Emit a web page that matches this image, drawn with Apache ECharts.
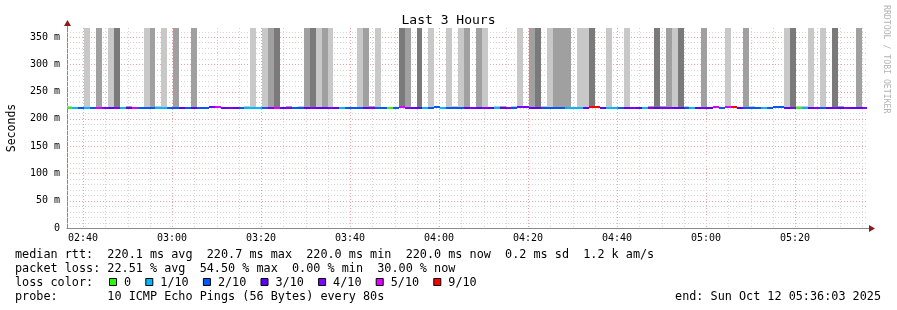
<!DOCTYPE html>
<html><head><meta charset="utf-8">
<script src="https://cdn.jsdelivr.net/npm/echarts@6/dist/echarts.min.js"></script>
<style>html,body{margin:0;padding:0;background:#fff}#c{width:897px;height:310px}</style>
</head><body><div id="c"></div>
<script>
// ---------- data ----------
const startTime = 9377;          // first step start, seconds since midnight (02:36:17)
const stepSec = 80;
// smoke shade per step: 0 none, 1 light, 2 mid, 3 dark
const smokeShade = [
0,0,0,1,0,2,0,1,3,0, 0,0,0,1,2,0,1,0,2,0, 0,2,0,0,0,0,0,0,0,0,
0,1,0,1,2,3,0,0,0,0, 2,3,1,2,1,0,0,0,0,1, 2,0,1,0,0,0,3,2,0,3,
0,1,0,0,1,0,1,2,0,2, 1,0,0,0,0,0,1,0,2,3, 0,1,2,2,2,0,1,1,3,0,
0,1,0,0,1,0,0,0,0,3, 0,2,1,3,0,0,0,2,0,0, 0,1,0,0,2,0,0,0,0,0,
0,1,3,0,0,1,0,1,0,3, 0,0,0,2,0];
const smokeTopMs = 400;          // tall smoke runs off the top of the chart
// loss level per step: index into lossLabels
const lossLevel = [
0,1,2,1,2,5,4,3,4,1, 3,5,2,2,2,1,1,2,2,3, 2,3,2,2,4,5,3,4,3,2,
1,1,1,2,4,5,3,4,2,2, 3,4,3,3,4,3,1,2,2,2, 3,4,2,2,0,2,5,4,3,3,
1,2,2,1,2,2,2,3,4,3, 4,3,1,3,4,2,4,4,3,3, 2,2,2,2,1,1,1,3,6,6,
3,1,1,2,3,4,3,1,4,3, 4,4,3,3,2,1,3,4,3,5, 2,5,6,3,2,2,2,1,2,2,
2,3,4,0,1,3,4,2,3,4, 3,4,3,3,4];
// median rtt per step (ms)
const medianMs = [
220,220,220,220,220,220,220,220,220,220, 220,220,220,220,220,220,220,220,220,220, 220,220,220,220,221.5,221.5,220,220,220,220,
220,220,220,220,220,220,220,220,220,220, 220,220,220,220,220,220,220,220,220,220, 220,220,220,220,220,220,221,220,220,220,
220,220,221.5,220,220,220,220,220,220,220, 220,220,220,220,220,220,221.5,221.5,220,220, 220,220,220,220,220,220,220,220,221,221,
220,220,220,220,220,220,220,220,220,220, 220,220,220,220,220,220,220,220,220,221, 220,221,221,220,220,220,220,220,220,221.5,
221.5,220,220,220,220,220,220,220,220,220, 220,220,220,220,220];
// small smoke just above the median: top (ms, 0 = none) and shade
const bumpTop = [
223,0,0,0,222.5,0,0,0,0,0, 224,0,0,0,0,223,0,0,0,0, 0,0,0,0,0,0,0,0,0,0,
223,0,0,0,0,0,0,224,0,223, 0,0,0,0,0,0,0,0,0,0, 0,224,0,0,0,0,0,0,0,0,
0,0,224,0,0,223,0,0,0,0, 0,0,223,223.5,0,223,0,0,0,0, 223,0,0,0,0,0,0,0,0,0,
0,0,0,0,0,0,0,0,223.5,0, 223.5,0,0,0,223,0,0,0,0,224, 0,0,0,0,0,223,0,0,0,223,
223.5,0,0,223,223,0,0,0,0,0, 223,0,0,0,0];
const bumpShade = [
1,0,0,0,1,0,0,0,0,0, 2,0,0,0,0,1,0,0,0,0, 0,0,0,0,0,0,0,0,0,0,
1,0,0,0,0,0,0,2,0,1, 0,0,0,0,0,0,0,0,0,0, 0,2,0,0,0,0,0,0,0,0,
0,0,2,0,0,1,0,0,0,0, 0,0,1,2,0,1,0,0,0,0, 1,0,0,0,0,0,0,0,0,0,
0,0,0,0,0,0,0,0,2,0, 2,0,0,0,1,0,0,0,0,3, 0,0,0,0,0,1,0,0,0,1,
2,0,0,1,1,0,0,0,0,0, 2,0,0,0,0];
const lossLabels = ['0','1/10','2/10','3/10','4/10','5/10','9/10'];
const lossColors = ['#26ff00','#00b8ff','#0059ff','#5e00ff','#7e00ff','#dd00ff','#ff0000'];
const shadeColors = [null,'#c8c8c8','#a0a0a0','#7a7a7a'];
const xTickLabels = ['02:40','03:00','03:20','03:40','04:00','04:20','04:40','05:00','05:20'];
const yTickLabels = ['0','50 m','100 m','150 m','200 m','250 m','300 m','350 m'];
const xMin = 9384, xMax = 20184;   // 02:36:24 .. 05:36:24
const yMax = 366.5;
const statLines = [
  'median rtt:  220.1 ms avg  220.7 ms max  220.0 ms min  220.0 ms now  0.2 ms sd  1.2 k am/s',
  'packet loss: 22.51 % avg  54.50 % max  0.00 % min  30.00 % now'
];
const probeText = 'probe:       10 ICMP Echo Pings (56 Bytes) every 80s';
const endText = 'end: Sun Oct 12 05:36:03 2025';

// ---------- helpers ----------
const FONT = 'DejaVu Sans Mono';
const pad = n => (n < 10 ? '0' : '') + n;
const fmtTime = s => pad(Math.floor(s / 3600)) + ':' + pad(Math.floor((s % 3600) / 60));
const parseTime = str => { const [h, m] = str.split(':').map(Number); return h * 3600 + m * 60; };
const xTickValues = xTickLabels.map(parseTime);

const smokeData = smokeShade.map((s, i) => [startTime + i * stepSec, s]);
const bumpData = bumpTop.map((v, i) => [startTime + i * stepSec, v, bumpShade[i]]);
const medianData = medianMs.map((v, i) => [startTime + i * stepSec, v, lossLevel[i]]);

const vGrid = [];
for (let t = xTickValues[0]; t < xMax; t += 300) vGrid.push([t, 0, (t - xTickValues[0]) % 1200 === 0 ? 1 : 0]);
const hGrid = [];
for (let v = 10; v < yMax; v += 10) hGrid.push([xMin, v, v % 50 === 0 ? 1 : 0]);

function stepRect(api, t, lo, hi) {
  const a = api.coord([t, lo]);
  const b = api.coord([t + stepSec, hi]);
  const x = Math.round(a[0]), x2 = Math.round(b[0]);
  const y = Math.round(b[1]), y2 = Math.round(a[1]);
  return { x: x, y: y, width: x2 - x, height: y2 - y };
}

const chart = echarts.init(document.getElementById('c'), null, { renderer: 'canvas' });

// legend squares / labels for loss colours
const legendEls = [];
let lx = 109;
const charW = 7.1;
lossLabels.forEach((lab, i) => {
  legendEls.push({ type: 'rect', shape: { x: lx + 0.5, y: 278.5, width: 7, height: 7 },
    style: { fill: lossColors[i], stroke: '#000', lineWidth: 1 } });
  legendEls.push({ type: 'text', x: lx + 15, y: 282, style: { text: lab, font: '11.8px "' + FONT + '"', fill: '#000', verticalAlign: 'middle' } });
  lx += 15 + lab.length * charW + 2 * charW;
});

const option = {
  animation: false,
  backgroundColor: '#ffffff',
  title: { text: 'Last 3 Hours', left: 'center', top: 9,
    textStyle: { fontFamily: FONT, fontSize: 13, fontWeight: 'normal', color: '#000' } },
  grid: { left: 67, right: 29, top: 28, height: 200, containLabel: false, outerBoundsMode: 'none' },
  xAxis: {
    type: 'value', min: xMin, max: xMax,
    splitLine: { show: false }, axisTick: { show: false },
    axisLine: { show: true, lineStyle: { color: '#8a8a8a', width: 1 } },
    axisLabel: { customValues: xTickValues, formatter: v => fmtTime(v), margin: 5,
      fontFamily: FONT, fontSize: 10, color: '#000', showMinLabel: true, showMaxLabel: true }
  },
  yAxis: {
    type: 'value', min: 0, max: yMax, interval: 50,
    name: 'Seconds', nameLocation: 'middle', nameRotate: 90, nameGap: 49,
    nameTextStyle: { fontFamily: FONT, fontSize: 11.5, color: '#000' },
    splitLine: { show: false }, axisTick: { show: false },
    axisLine: { show: true, lineStyle: { color: '#8a8a8a', width: 1 } },
    axisLabel: { formatter: v => (v % 50 === 0 ? yTickLabels[v / 50] : ''), showMaxLabel: false,
      margin: 7, fontFamily: FONT, fontSize: 10, color: '#000' }
  },
  series: [
    { type: 'custom', name: 'vgrid', clip: true, z: 1, silent: true, encode: { x: 0, y: 1 }, data: vGrid,
      renderItem: (p, api) => {
        const cs = p.coordSys;
        const x = Math.round(api.coord([api.value(0), 0])[0]) + 0.5;
        return { type: 'line', shape: { x1: x, y1: cs.y, x2: x, y2: cs.y + cs.height },
          style: { stroke: api.value(2) ? '#eda3a3' : '#d4d4d4', lineWidth: 1, lineDash: [1, 2] } };
      } },
    { type: 'custom', name: 'hgrid', clip: true, z: 1, silent: true, encode: { x: 0, y: 1 }, data: hGrid,
      renderItem: (p, api) => {
        const cs = p.coordSys;
        const y = Math.round(api.coord([xMin, api.value(1)])[1]) + 0.5;
        return { type: 'line', shape: { x1: cs.x, y1: y, x2: cs.x + cs.width, y2: y },
          style: { stroke: api.value(2) ? '#eda3a3' : '#d4d4d4', lineWidth: 1, lineDash: [1, 2] } };
      } },
    { type: 'custom', name: 'smoke', clip: true, z: 2, encode: { x: 0, y: 1 }, data: smokeData,
      renderItem: (p, api) => {
        const s = api.value(1);
        if (!s) return null;
        return { type: 'rect', shape: stepRect(api, api.value(0), 220, smokeTopMs), style: { fill: shadeColors[s] } };
      } },
    { type: 'custom', name: 'bump', clip: true, z: 2, encode: { x: 0, y: 1 }, data: bumpData,
      renderItem: (p, api) => {
        const top = api.value(1), s = api.value(2);
        if (!top) return null;
        return { type: 'rect', shape: stepRect(api, api.value(0), 220, top), style: { fill: shadeColors[s] } };
      } },
    { type: 'custom', name: 'median', clip: true, z: 4, encode: { x: 0, y: 1 }, data: medianData,
      renderItem: (p, api) => {
        const a = api.coord([api.value(0), api.value(1)]);
        const b = api.coord([api.value(0) + stepSec, api.value(1)]);
        const x = Math.round(a[0]), x2 = Math.round(b[0]);
        const y = Math.round(a[1]) - 1;
        return { type: 'rect', shape: { x: x, y: y, width: x2 - x, height: 2 }, style: { fill: lossColors[api.value(2)] } };
      } }
  ],
  graphic: [
    { type: 'line', shape: { x1: 67.5, y1: 28, x2: 67.5, y2: 22 }, style: { stroke: '#8a8a8a', lineWidth: 1 } },
    { type: 'polygon', shape: { points: [[64, 26], [71, 26], [67.5, 20]] }, style: { fill: '#8b1c1c' } },
    { type: 'line', shape: { x1: 868, y1: 228.5, x2: 872, y2: 228.5 }, style: { stroke: '#8a8a8a', lineWidth: 1 } },
    { type: 'polygon', shape: { points: [[869, 225], [869, 232], [875, 228.5]] }, style: { fill: '#8b1c1c' } },
    { type: 'text', x: 886, y: 5, rotation: -Math.PI / 2,
      style: { text: 'RRDTOOL / TOBI OETIKER', font: '8.2px "' + FONT + '"', fill: '#b4b4b4', verticalAlign: 'middle', align: 'left' } },
    { type: 'text', x: 15, y: 255, style: { text: statLines[0], font: '11.8px "' + FONT + '"', fill: '#000', verticalAlign: 'middle' } },
    { type: 'text', x: 15, y: 269, style: { text: statLines[1], font: '11.8px "' + FONT + '"', fill: '#000', verticalAlign: 'middle' } },
    { type: 'text', x: 15, y: 283, style: { text: 'loss color:', font: '11.8px "' + FONT + '"', fill: '#000', verticalAlign: 'middle' } },
    { type: 'text', x: 15, y: 297, style: { text: probeText, font: '11.8px "' + FONT + '"', fill: '#000', verticalAlign: 'middle' } },
    { type: 'text', x: 881, y: 297, style: { text: endText, font: '11.8px "' + FONT + '"', fill: '#000', verticalAlign: 'middle', align: 'right' } }
  ].concat(legendEls.map(e => e.type === 'text' ? Object.assign(e, { y: 283 }) : e))
};
chart.setOption(option);
</script>
</body></html>
